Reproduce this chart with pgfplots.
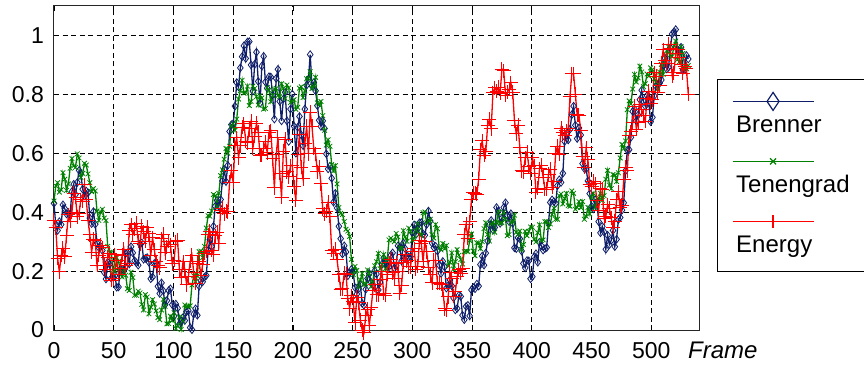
\documentclass[border=0pt]{standalone}
\usepackage{fontspec}
\setmainfont{Liberation Sans}
\usepackage{pgfplots}
\pgfplotsset{compat=1.18}
\usepackage{pgfplotstable}
\definecolor{bnavy}{RGB}{14,30,105}
\definecolor{tgreen}{RGB}{0,128,0}
\definecolor{ered}{RGB}{255,0,0}
\newcommand{\legfont}{\fontsize{24}{28}\selectfont}
\pgfplotsset{
  leg brenner/.style={legend image code/.code={
    \path[draw=none,fill=none] (0pt,16pt) rectangle (185pt,-44pt);
    \draw[draw=bnavy, line width=1.2pt, solid] (9pt,0pt) -- (90pt,0pt);
    \draw[draw=bnavy, line width=1.2pt, solid, fill=none] (49.5pt,9pt) -- (55.5pt,0pt) -- (49.5pt,-9pt) -- (43.5pt,0pt) -- cycle;
    \node[anchor=base west, inner sep=0pt, text=black, font=\legfont] at (12pt,-31pt) {Brenner};
  }},
  leg tenengrad/.style={legend image code/.code={
    \path[draw=none,fill=none] (0pt,16pt) rectangle (185pt,-44pt);
    \draw[draw=tgreen, line width=1.2pt, solid] (9pt,0pt) -- (90pt,0pt);
    \draw[draw=tgreen, line width=1.2pt, solid] (46.5pt,-3pt) -- (52.5pt,3pt) (46.5pt,3pt) -- (52.5pt,-3pt);
    \node[anchor=base west, inner sep=0pt, text=black, font=\legfont] at (12pt,-31pt) {Tenengrad};
  }},
  leg energy/.style={legend image code/.code={
    \path[draw=none,fill=none] (0pt,16pt) rectangle (185pt,-44pt);
    \draw[draw=ered, line width=1.6pt, solid] (9pt,0pt) -- (90pt,0pt);
    \draw[draw=ered, line width=1.6pt, solid] (49.5pt,-6.5pt) -- (49.5pt,6.5pt);
    \node[anchor=base west, inner sep=0pt, text=black, font=\legfont] at (12pt,-31pt) {Energy};
  }},
}
\pgfplotstableread{
x b t e
0 0.430 0.438 0.372
1.5 0.354 0.489 0.347
3 0.338 0.500 0.244
4.5 0.368 0.468 0.197
6 0.358 0.476 0.253
7.5 0.425 0.534 0.277
9 0.412 0.512 0.248
10.5 0.394 0.474 0.320
12 0.396 0.496 0.391
13.5 0.393 0.549 0.370
15 0.470 0.582 0.400
16.5 0.495 0.557 0.464
18 0.460 0.552 0.450
19.5 0.501 0.598 0.385
21 0.542 0.584 0.397
22.5 0.530 0.518 0.443
24 0.478 0.532 0.437
25.5 0.455 0.566 0.493
27 0.472 0.560 0.444
28.5 0.466 0.530 0.371
30 0.380 0.500 0.324
31.5 0.361 0.470 0.264
33 0.402 0.480 0.308
34.5 0.359 0.472 0.303
36 0.296 0.404 0.220
37.5 0.280 0.372 0.254
39 0.284 0.400 0.287
40.5 0.270 0.410 0.279
42 0.196 0.380 0.219
43.5 0.173 0.372 0.207
45 0.230 0.284 0.246
46.5 0.223 0.264 0.260
48 0.176 0.264 0.169
49.5 0.180 0.192 0.174
51 0.184 0.200 0.256
52.5 0.145 0.246 0.236
54 0.146 0.232 0.190
55.5 0.206 0.206 0.209
57 0.206 0.180 0.253
58.5 0.203 0.203 0.275
60 0.260 0.186 0.218
61.5 0.262 0.140 0.227
63 0.224 0.134 0.339
64.5 0.283 0.196 0.358
66 0.262 0.178 0.324
67.5 0.235 0.118 0.343
69 0.228 0.118 0.362
70.5 0.220 0.132 0.302
72 0.292 0.126 0.293
73.5 0.296 0.087 0.352
75 0.240 0.068 0.333
76.5 0.243 0.120 0.302
78 0.246 0.112 0.348
79.5 0.230 0.055 0.326
81 0.174 0.078 0.252
82.5 0.180 0.103 0.314
84 0.226 0.088 0.272
85.5 0.227 0.065 0.232
87 0.148 0.042 0.218
88.5 0.124 0.035 0.212
90 0.160 0.068 0.309
91.5 0.133 0.104 0.325
93 0.086 0.080 0.263
94.5 0.100 0.021 0.283
96 0.134 0.022 0.302
97.5 0.140 0.047 0.290
99 0.086 0.032 0.225
100.5 0.047 0.059 0.237
102 0.088 0.005 0.300
103.5 0.074 0.015 0.304
105 0.020 0.044 0.204
106.5 0.031 0.002 0.179
108 0.042 0.030 0.231
109.5 0.032 0.085 0.206
111 0.062 0.080 0.154
112.5 0.065 0.081 0.181
114 0.008 0.082 0.233
115.5 0.001 0.153 0.253
117 0.054 0.184 0.194
118.5 0.072 0.164 0.158
120 0.050 0.184 0.226
121.5 0.149 0.266 0.232
123 0.168 0.268 0.185
124.5 0.164 0.246 0.223
126 0.180 0.284 0.261
127.5 0.185 0.346 0.267
129 0.270 0.388 0.324
130.5 0.307 0.386 0.336
132 0.284 0.404 0.270
133.5 0.352 0.460 0.256
135 0.420 0.456 0.320
136.5 0.440 0.420 0.332
138 0.420 0.464 0.292
139.5 0.443 0.524 0.405
141 0.506 0.544 0.413
142.5 0.545 0.580 0.395
144 0.504 0.616 0.403
145.5 0.559 0.600 0.401
147 0.674 0.624 0.502
148.5 0.697 0.692 0.541
150 0.700 0.700 0.501
151.5 0.760 0.678 0.627
153 0.840 0.716 0.652
154.5 0.825 0.784 0.585
156 0.890 0.812 0.626
157.5 0.928 0.848 0.688
159 0.965 0.804 0.701
160.5 0.922 0.806 0.641
162 0.978 0.828 0.636
163.5 0.979 0.762 0.684
165 0.900 0.776 0.709
166.5 0.811 0.828 0.617
168 0.902 0.820 0.658
169.5 0.943 0.792 0.702
171 0.844 0.764 0.672
172.5 0.770 0.796 0.593
174 0.896 0.788 0.595
175.5 0.929 0.750 0.615
177 0.842 0.752 0.639
178.5 0.821 0.823 0.602
180 0.860 0.814 0.672
181.5 0.859 0.775 0.677
183 0.798 0.796 0.582
184.5 0.716 0.818 0.483
186 0.854 0.820 0.596
187.5 0.885 0.796 0.653
189 0.776 0.792 0.532
190.5 0.710 0.836 0.451
192 0.784 0.820 0.607
193.5 0.807 0.786 0.648
195 0.710 0.832 0.537
196.5 0.640 0.822 0.520
198 0.750 0.772 0.558
199.5 0.801 0.777 0.560
201 0.692 0.782 0.487
202.5 0.600 0.749 0.440
204 0.688 0.756 0.596
205.5 0.725 0.821 0.663
207 0.662 0.826 0.552
208.5 0.626 0.789 0.513
210 0.750 0.812 0.633
211.5 0.831 0.853 0.692
213 0.852 0.854 0.598
214.5 0.935 0.877 0.740
216 0.828 0.820 0.691
217.5 0.840 0.829 0.617
219 0.812 0.858 0.598
220.5 0.762 0.771 0.537
222 0.712 0.764 0.554
223.5 0.691 0.776 0.496
225 0.710 0.728 0.411
226.5 0.684 0.678 0.394
228 0.598 0.628 0.403
229.5 0.547 0.646 0.434
231 0.556 0.624 0.386
232.5 0.515 0.562 0.271
234 0.434 0.540 0.260
235.5 0.464 0.558 0.275
237 0.414 0.496 0.238
238.5 0.352 0.416 0.188
240 0.310 0.396 0.138
241.5 0.258 0.392 0.140
243 0.286 0.368 0.193
244.5 0.265 0.342 0.189
246 0.184 0.336 0.107
247.5 0.195 0.318 0.073
249 0.206 0.240 0.116
250.5 0.195 0.188 0.097
252 0.144 0.216 0.025
253.5 0.122 0.202 0.111
255 0.140 0.148 0.092
256.5 0.155 0.170 0.033
258 0.090 0.192 0.000
259.5 0.084 0.154 -0.010
261 0.138 0.156 0.048
262.5 0.175 0.204 0.071
264 0.192 0.192 0.015
265.5 0.162 0.148 0.075
267 0.152 0.164 0.135
268.5 0.201 0.218 0.154
270 0.190 0.232 0.120
271.5 0.136 0.260 0.119
273 0.162 0.208 0.170
274.5 0.223 0.222 0.200
276 0.244 0.256 0.125
277.5 0.230 0.208 0.118
279 0.216 0.240 0.189
280.5 0.215 0.306 0.228
282 0.254 0.312 0.240
283.5 0.262 0.306 0.194
285 0.210 0.300 0.174
286.5 0.218 0.328 0.226
288 0.286 0.316 0.200
289.5 0.280 0.277 0.124
291 0.234 0.278 0.152
292.5 0.295 0.337 0.230
294 0.276 0.316 0.255
295.5 0.252 0.301 0.235
297 0.248 0.346 0.215
298.5 0.249 0.335 0.215
300 0.330 0.304 0.266
301.5 0.357 0.311 0.276
303 0.324 0.338 0.207
304.5 0.344 0.361 0.217
306 0.364 0.324 0.304
307.5 0.365 0.321 0.294
309 0.326 0.398 0.232
310.5 0.322 0.401 0.300
312 0.358 0.364 0.265
313.5 0.404 0.370 0.213
315 0.370 0.376 0.188
316.5 0.295 0.324 0.160
318 0.280 0.312 0.237
319.5 0.284 0.358 0.237
321 0.268 0.344 0.160
322.5 0.220 0.278 0.158
324 0.192 0.272 0.156
325.5 0.233 0.294 0.140
327 0.214 0.276 0.073
328.5 0.142 0.287 0.067
330 0.150 0.218 0.113
331.5 0.170 0.230 0.196
333 0.150 0.262 0.176
334.5 0.109 0.207 0.114
336 0.068 0.232 0.130
337.5 0.073 0.273 0.180
339 0.118 0.254 0.204
340.5 0.114 0.239 0.193
342 0.050 0.224 0.208
343.5 0.035 0.266 0.323
345 0.080 0.268 0.359
346.5 0.084 0.266 0.311
348 0.048 0.304 0.367
349.5 0.136 0.326 0.443
351 0.144 0.268 0.466
352.5 0.140 0.252 0.464
354 0.156 0.296 0.461
355.5 0.149 0.296 0.511
357 0.222 0.276 0.612
358.5 0.251 0.300 0.642
360 0.220 0.344 0.594
361.5 0.261 0.364 0.605
363 0.302 0.324 0.693
364.5 0.357 0.302 0.715
366 0.372 0.360 0.684
367.5 0.340 0.366 0.806
369 0.348 0.332 0.823
370.5 0.416 0.366 0.811
372 0.404 0.400 0.824
373.5 0.362 0.362 0.803
375 0.380 0.364 0.886
376.5 0.416 0.400 0.881
378 0.432 0.376 0.797
379.5 0.390 0.320 0.807
381 0.368 0.324 0.817
382.5 0.395 0.366 0.839
384 0.362 0.368 0.808
385.5 0.279 0.390 0.711
387 0.276 0.332 0.666
388.5 0.313 0.324 0.695
390 0.310 0.336 0.620
391.5 0.268 0.273 0.540
393 0.226 0.290 0.538
394.5 0.211 0.335 0.584
396 0.236 0.320 0.603
397.5 0.235 0.335 0.555
399 0.174 0.350 0.533
400.5 0.181 0.349 0.585
402 0.248 0.308 0.558
403.5 0.259 0.299 0.468
405 0.230 0.330 0.481
406.5 0.298 0.357 0.547
408 0.286 0.304 0.560
409.5 0.271 0.306 0.519
411 0.276 0.368 0.478
412.5 0.280 0.368 0.478
414 0.364 0.348 0.529
415.5 0.433 0.360 0.546
417 0.442 0.392 0.484
418.5 0.436 0.414 0.503
420 0.430 0.376 0.599
421.5 0.490 0.376 0.624
423 0.510 0.456 0.596
424.5 0.501 0.462 0.685
426 0.532 0.428 0.670
427.5 0.640 0.446 0.661
429 0.668 0.464 0.677
430.5 0.645 0.422 0.683
432 0.682 0.420 0.793
433.5 0.731 0.472 0.870
435 0.760 0.464 0.870
436.5 0.695 0.410 0.800
438 0.650 0.416 0.730
439.5 0.686 0.436 0.729
441 0.662 0.416 0.676
442.5 0.565 0.436 0.588
444 0.548 0.376 0.552
445.5 0.547 0.386 0.618
447 0.506 0.416 0.579
448.5 0.463 0.394 0.494
450 0.420 0.452 0.487
451.5 0.411 0.464 0.505
453 0.442 0.416 0.496
454.5 0.435 0.432 0.438
456 0.368 0.448 0.405
457.5 0.330 0.464 0.481
459 0.352 0.440 0.478
460.5 0.333 0.456 0.380
462 0.274 0.512 0.386
463.5 0.322 0.542 0.426
465 0.290 0.492 0.413
466.5 0.304 0.480 0.381
468 0.338 0.528 0.348
469.5 0.283 0.526 0.370
471 0.308 0.504 0.443
472.5 0.375 0.534 0.469
474 0.382 0.584 0.416
475.5 0.407 0.630 0.424
477 0.432 0.616 0.510
478.5 0.541 0.642 0.552
480 0.610 0.748 0.541
481.5 0.612 0.778 0.659
483 0.654 0.768 0.673
484.5 0.742 0.818 0.704
486 0.750 0.868 0.760
487.5 0.710 0.842 0.681
489 0.730 0.856 0.706
490.5 0.782 0.896 0.766
492 0.814 0.876 0.748
493.5 0.777 0.826 0.728
495 0.760 0.836 0.708
496.5 0.796 0.869 0.786
498 0.772 0.862 0.811
499.5 0.707 0.890 0.770
501 0.722 0.884 0.781
502.5 0.795 0.853 0.874
504 0.828 0.842 0.862
505.5 0.833 0.819 0.808
507 0.838 0.876 0.831
508.5 0.849 0.902 0.905
510 0.900 0.868 0.952
511.5 0.923 0.908 0.915
513 0.886 0.948 0.904
514.5 0.892 0.961 0.970
516 0.958 0.934 0.957
517.5 1.005 0.929 0.864
519 1.012 0.964 0.874
520.5 1.020 0.981 0.939
522 0.952 0.918 0.951
523.5 0.946 0.910 0.926
525 0.960 0.962 0.900
526.5 0.882 0.939 0.872
528 0.884 0.896 0.896
529.5 0.932 0.887 0.887
531 0.920 0.898 0.801
}\data
\begin{document}
\begin{tikzpicture}
\useasboundingbox (-54pt,-37pt) rectangle (810pt,330pt);
\begin{axis}[
  at={(0,0)}, anchor=south west,
  scale only axis, width=645pt, height=324pt,
  xmin=0, xmax=540, ymin=0, ymax=1.1,
  xtick={0,50,100,150,200,250,300,350,400,450,500},
  ytick={0,0.2,0.4,0.6,0.8,1},
  yticklabels={0,0.2,0.4,0.6,0.8,1},
  /pgf/number format/assume math mode=true,
  tick align=inside, major tick length=5pt,
  tick style={black, line width=0.6pt},
  axis line style={black!85, line width=1pt},
  grid=major,
  major grid style={black, dash pattern=on 5pt off 3.5pt, line width=1pt},
  ticklabel style={font=\fontsize{23}{27}\selectfont, text=black},
  xticklabel style={inner sep=0pt, anchor=north, yshift=-12pt},
  yticklabel style={inner sep=0pt, anchor=east, xshift=-10pt},
  xlabel={\itshape Frame},
  xlabel style={at={(axis description cs:0.983,0)}, anchor=north west, inner sep=0pt, yshift=-12pt, font=\legfont},
  clip=false,
  legend style={at={(rel axis cs:1.028,0.775)}, anchor=north west, draw=black, line width=1pt, inner sep=6pt, fill=white},
]
\addplot[color=bnavy, line width=1.3pt, mark=diamond, mark size=3.8pt, mark options={solid, line width=0.8pt}, leg brenner] table[x=x, y=b] {\data};
\addlegendentry{}
\addplot[color=tgreen, line width=1.3pt, mark=x, mark size=3.3pt, mark options={solid, line width=0.8pt}, leg tenengrad] table[x=x, y=t] {\data};
\addlegendentry{}
\addplot[color=ered, line width=1.3pt, mark=+, mark size=7pt, mark options={solid, line width=1pt}, leg energy] table[x=x, y=e] {\data};
\addlegendentry{}
\end{axis}
\end{tikzpicture}
\end{document}
